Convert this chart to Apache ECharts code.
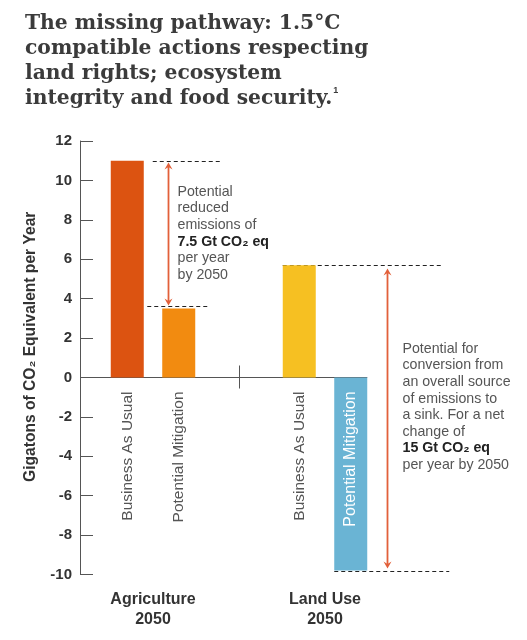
<!DOCTYPE html>
<html><head><meta charset="utf-8">
<script src="https://cdn.jsdelivr.net/npm/echarts@6/dist/echarts.min.js"></script>
<style>html,body{margin:0;padding:0;background:#fff}#c{width:527px;height:640px}</style>
</head><body><div id="c"></div>
<script>
// ---- data ----
const categories = ['Agriculture\n2050', 'Land Use\n2050'];
const seriesNames = ['Business As Usual', 'Potential Mitigation'];
const businessAsUsual = [11, 5.7];
const potentialMitigation = [3.5, -9.8];
const yMin = -10, yMax = 12, yInterval = 2;
const yAxisTitle = 'Gigatons of CO₂ Equivalent per Year';
const titleText = 'The missing pathway: 1.5°C\ncompatible actions respecting\nland rights; ecosystem\nintegrity and food security.';
const titleNote = '1';
const noteAgriculture = ['Potential', 'reduced', 'emissions of', '{b|7.5 Gt CO₂ eq}', 'per year', 'by 2050'];
const noteLandUse = ['Potential for', 'conversion from', 'an overall source', 'of emissions to', 'a sink. For a net', 'change of', '{b|15 Gt CO₂ eq}', 'per year by 2050'];

// ---- styles ----
const bauColors = ['#dc5311', '#f6c022'];
const pmColors = ['#f28b10', '#6ab4d4'];
const SANS = '"Liberation Sans", Arial, sans-serif';
const BAR_W = 33, GAP_W = 18.5;
const HALF = (BAR_W + GAP_W) / 2;
const GRID_LEFT = 67, Y_OFFSET = -13;

const chart = echarts.init(document.getElementById('c'));

const barLabel = {
  show: true, formatter: '{a}', position: 'bottom', distance: 14,
  rotate: 90, align: 'right', verticalAlign: 'middle',
  color: '#555', fontSize: 15.5, fontFamily: SANS
};

chart.setOption({
  animation: false,
  backgroundColor: '#fff',
  title: {
    left: 20, top: 6,
    text: titleText + '{sup|' + titleNote + '}',
    textStyle: {
      fontFamily: '"DejaVu Serif", serif', fontWeight: 'bold', fontSize: 20.3,
      color: '#3b3b3b', lineHeight: 25,
      rich: { sup: { fontSize: 9, verticalAlign: 'top', color: '#3b3b3b', fontFamily: SANS, fontWeight: 'bold', lineHeight: 14, padding: [0, 0, 0, 1] } }
    }
  },
  grid: { left: GRID_LEFT, right: 116, top: 141, bottom: 65.5 },
  xAxis: {
    type: 'category', data: categories,
    axisLine: { show: false, onZero: false }, axisTick: { show: false },
    axisLabel: { margin: 15, color: '#333', fontWeight: 'bold', fontSize: 16, lineHeight: 20, fontFamily: SANS }
  },
  yAxis: {
    type: 'value', min: yMin, max: yMax, interval: yInterval, offset: Y_OFFSET,
    axisLine: { show: true, lineStyle: { color: '#555', width: 1 } },
    axisTick: { show: true, inside: true, length: 13, lineStyle: { color: '#555' } },
    axisLabel: { margin: 8, color: '#333', fontWeight: 'bold', fontSize: 15, fontFamily: SANS },
    splitLine: { show: false },
    name: yAxisTitle, nameLocation: 'middle', nameRotate: 90, nameGap: 41,
    nameTextStyle: { color: '#333', fontWeight: 'bold', fontSize: 15.6, fontFamily: SANS, padding: [0, 0, 0, 22] }
  },
  series: [
    {
      name: seriesNames[0], type: 'bar', barWidth: BAR_W, barGap: (GAP_W / BAR_W * 100).toFixed(0) + '%',
      data: businessAsUsual.map((v, i) => ({ value: v, itemStyle: { color: bauColors[i] } })),
      label: barLabel
    },
    {
      name: seriesNames[1], type: 'bar', barWidth: BAR_W,
      data: potentialMitigation.map((v, i) => ({
        value: v, itemStyle: { color: pmColors[i] },
        label: v < 0 ? { position: 'insideTop', color: '#fff', fontSize: 16 } : {}
      })),
      label: barLabel
    }
  ]
});

// ---- annotations from the library's scales ----
const px = (i, v) => chart.convertToPixel({ gridIndex: 0 }, [i, v]);
const snap = v => Math.round(v) + 0.5;
const c0 = px(0, 0)[0], c1 = px(1, 0)[0];
const y = v => snap(px(0, v)[1]);
const axisX = GRID_LEFT - Y_OFFSET;
const ARROW = '#e2603a';

function hline(x1, x2, yy, dashed) {
  return { type: 'line', silent: true, shape: { x1: x1, y1: yy, x2: x2, y2: yy },
    style: { stroke: dashed ? '#222' : '#555', lineWidth: 1, lineDash: dashed ? [4, 3] : null } };
}
function arrow(x, yTop, yBot) {
  const w = 4, h = 7, n = 4.5;
  return [
    { type: 'line', silent: true, shape: { x1: x, y1: yTop + 3, x2: x, y2: yBot - 3 }, style: { stroke: ARROW, lineWidth: 1.8 } },
    { type: 'polygon', silent: true, shape: { points: [[x, yTop], [x - w, yTop + h], [x, yTop + n], [x + w, yTop + h]] }, style: { fill: ARROW } },
    { type: 'polygon', silent: true, shape: { points: [[x, yBot], [x - w, yBot - h], [x, yBot - n], [x + w, yBot - h]] }, style: { fill: ARROW } }
  ];
}
function note(lines, x, top) {
  return { type: 'text', silent: true, x: x, y: top,
    style: { text: lines.join('\n'), fontSize: 14.2, fontFamily: SANS, fill: '#555', lineHeight: 16.6,
      rich: { b: { fontSize: 14.2, fontFamily: SANS, fontWeight: 'bold', fill: '#222', lineHeight: 16.6 } } } };
}

const bau0R = c0 - HALF + BAR_W / 2, pm0L = c0 + HALF - BAR_W / 2, pm0R = c0 + HALF + BAR_W / 2;
const bau1L = c1 - HALF - BAR_W / 2, pm1L = c1 + HALF - BAR_W / 2, pm1R = c1 + HALF + BAR_W / 2;
const yZero = y(0);
const yA1 = y(businessAsUsual[0]), yA2 = y(potentialMitigation[0]);
const yL1 = y(businessAsUsual[1]), yL2 = y(potentialMitigation[1]);
const arrowX0 = Math.round(bau0R + 24) + 0.5, arrowX1 = Math.round(pm1R + 20) + 0.5;

chart.setOption({
  graphic: [
    hline(axisX, pm1R, yZero, false),
    { type: 'line', silent: true, shape: { x1: snap((c0 + c1) / 2), y1: yZero - 12, x2: snap((c0 + c1) / 2), y2: yZero + 11 }, style: { stroke: '#555', lineWidth: 1 } },
    hline(bau0R + 9, bau0R + 76, yA1, true),
    hline(pm0L - 15, pm0R + 13, yA2 - 2, true),
    hline(bau1L, bau1L + 159, yL1, true),
    hline(pm1L, pm1R + 82, yL2, true),
    ...arrow(arrowX0, yA1 + 1, yA2 - 3),
    ...arrow(arrowX1, yL1 + 3, yL2 - 3),
    note(noteAgriculture, arrowX0 + 9, yA1 + 22),
    note(noteLandUse, arrowX1 + 15, yZero - 37)
  ]
});
</script></body></html>
